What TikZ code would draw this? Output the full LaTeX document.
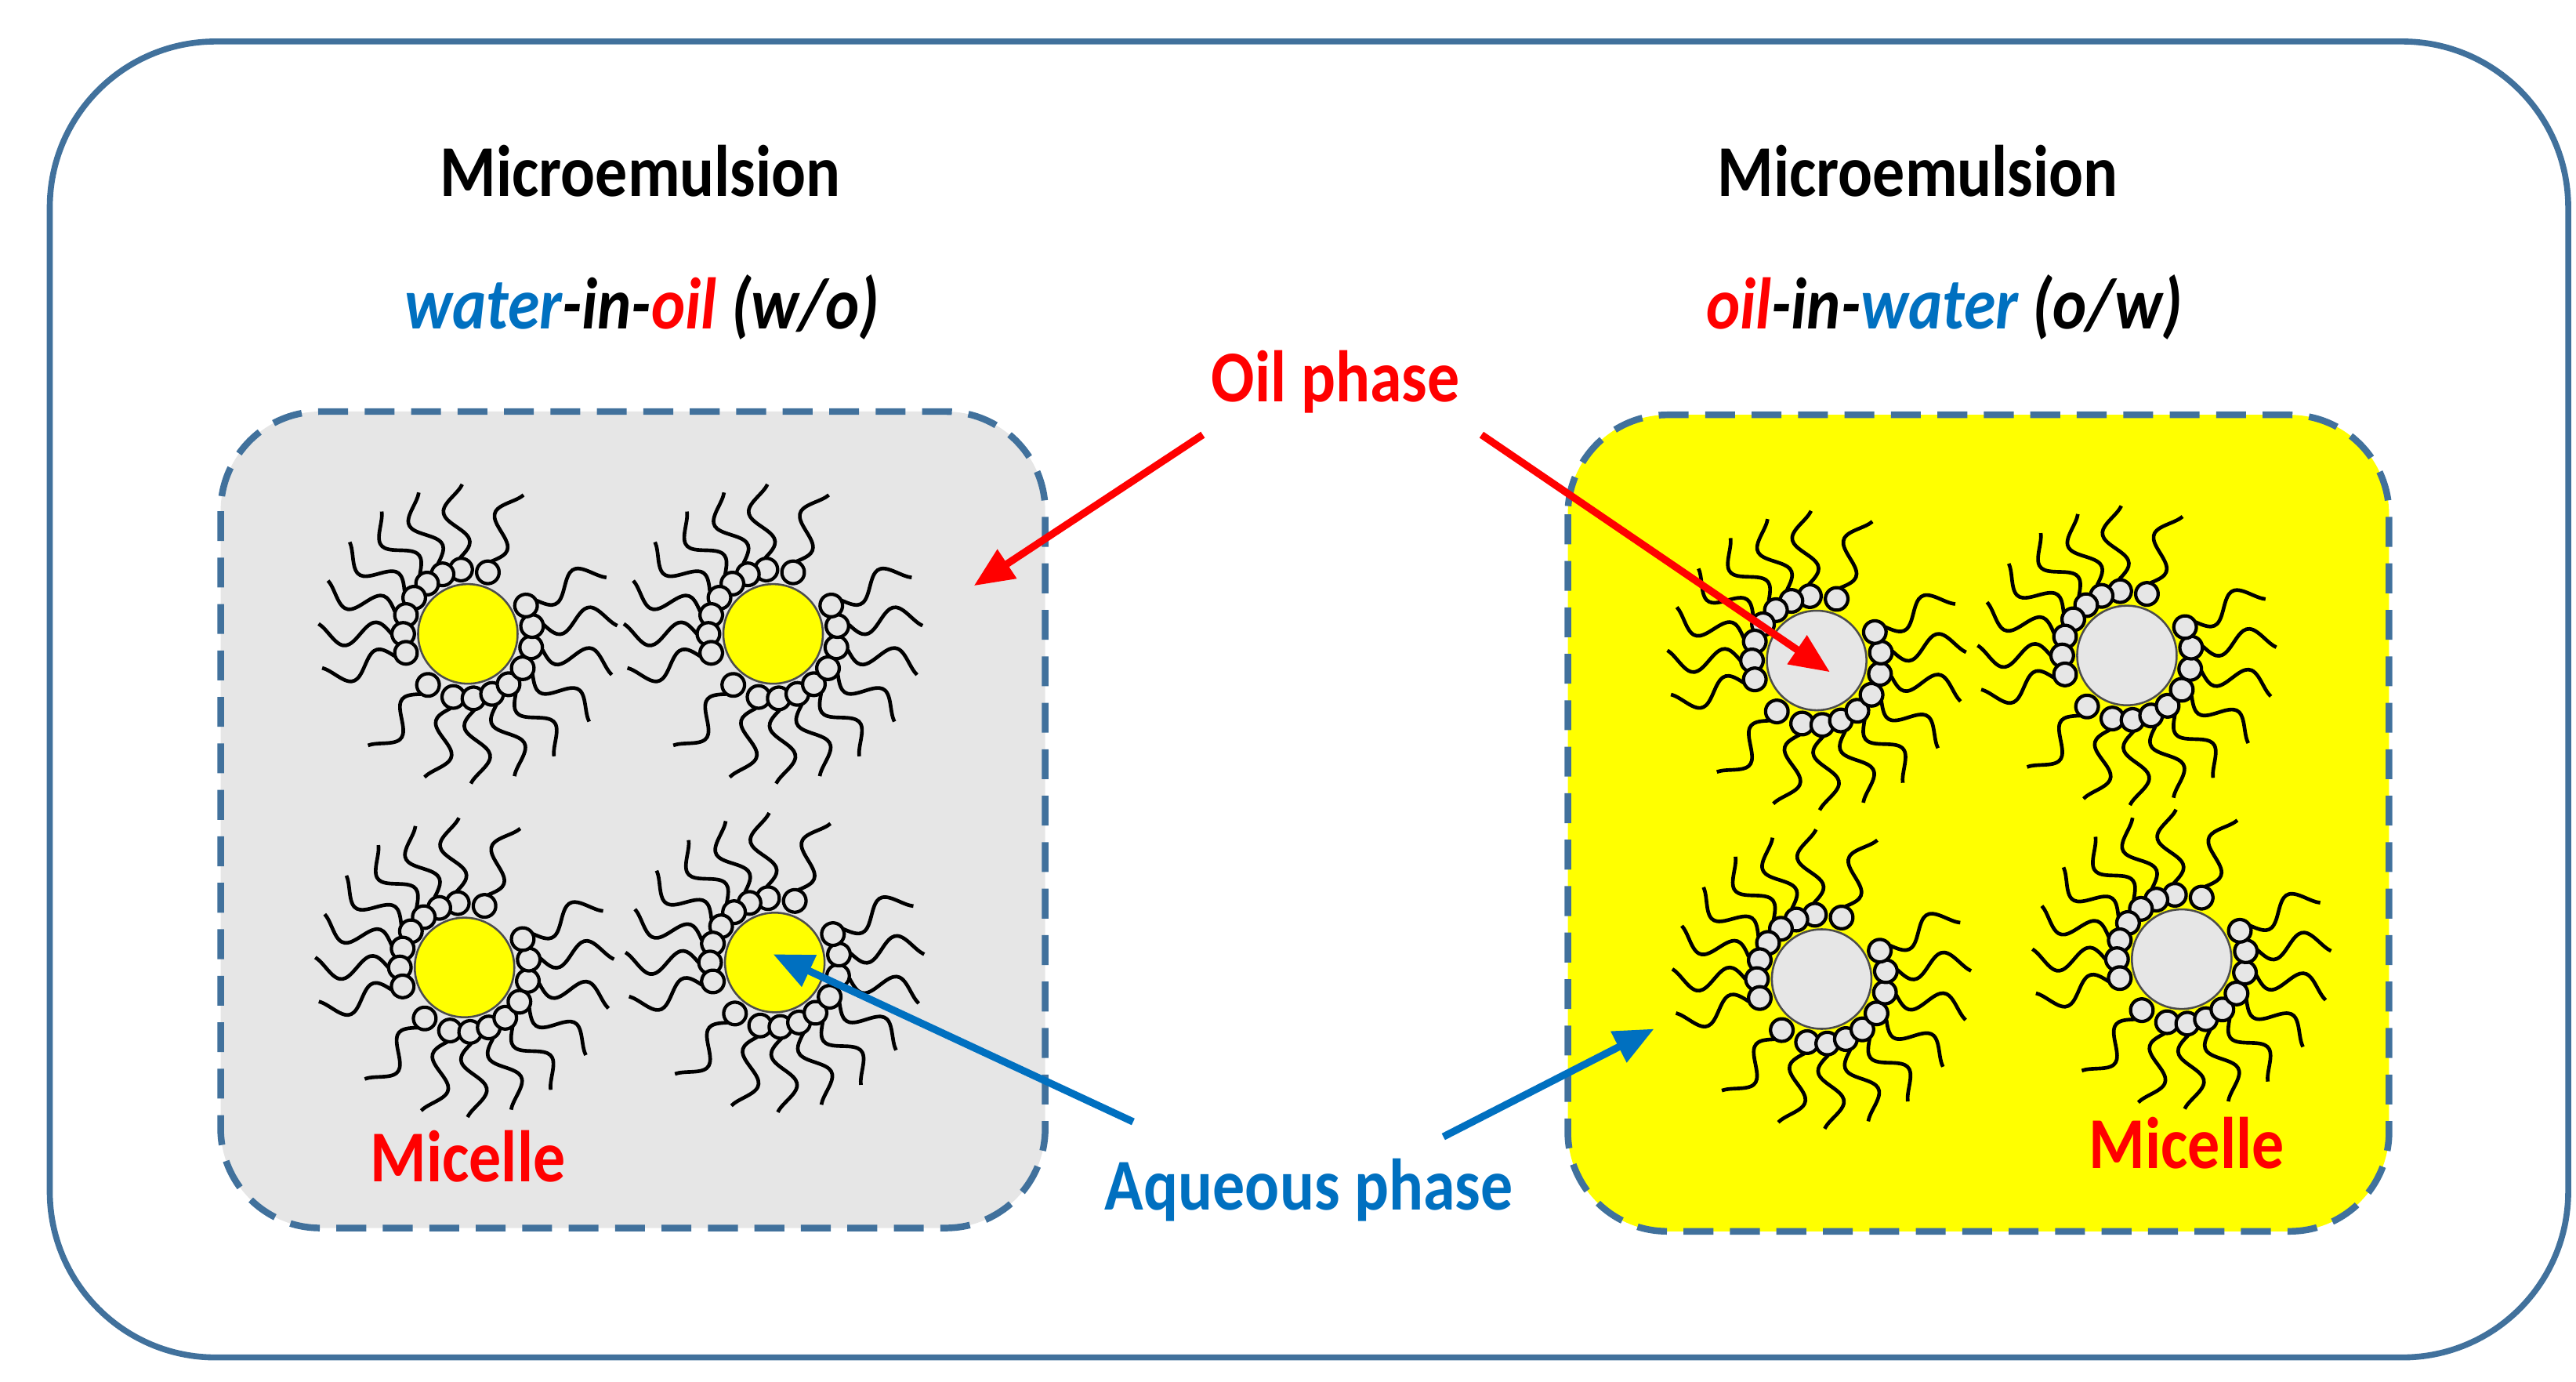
\documentclass[tikz,border=0pt]{standalone}
\usepackage{fontspec}
\usepackage{graphicx}
\setmainfont{Carlito}
\usetikzlibrary{arrows.meta}
\definecolor{frame}{HTML}{41719C}
\definecolor{wblue}{HTML}{0070C0}
\definecolor{ored}{HTML}{FF0000}
\definecolor{ygold}{HTML}{FFFF00}
\definecolor{lgray}{HTML}{E6E6E6}
\definecolor{cgray}{HTML}{DCDCDC}
\newcommand\mymicelle[4]{%
  \begin{scope}[shift={(#1,#2)}]
    \foreach \a in {72,96,113,129,146,163,180,197,232,257,275,292,309,328,348,7,26}{
      \draw[line width=1.1pt,rotate=\a] plot[domain=0:1,samples=25,smooth] ({46+44*\x},{7*sin(420*\x)});
      \draw[line width=1pt,fill=#4,rotate=\a] (39,0) circle [radius=3.4pt];
    }
    \node[circle,draw=black!70,line width=0.6pt,fill=#3,minimum size=30pt,inner sep=0pt] at (0,0) {};
  \end{scope}}
\newcommand\nar[1]{\scalebox{0.88}[1]{#1}}
\tikzset{
  ttl/.style={font=\bfseries\fontsize{22}{26}\selectfont},
  box/.style={draw=frame,line width=2pt,dash pattern=on 9pt off 5pt,rounded corners=30pt},
  arr/.style={line width=2.2pt,-{Triangle[length=12pt,width=10pt]}}
}
\begin{document}
\begin{tikzpicture}[x=0.5pt,y=-0.5pt]
\useasboundingbox (0,0) rectangle (1552.7,832.8);
\draw[frame,line width=1.8pt,rounded corners=50pt] (30,25) rectangle (1548,818);
\draw[box,fill=lgray] (133,248) rectangle (630,740);
\draw[box,fill=ygold] (945,250) rectangle (1440,742);
\mymicelle{282}{382}{ygold}{lgray}
\mymicelle{466}{382}{ygold}{lgray}
\mymicelle{280}{583}{ygold}{lgray}
\mymicelle{467}{580}{ygold}{lgray}
\mymicelle{1095}{398}{lgray}{lgray}
\mymicelle{1282}{395}{lgray}{lgray}
\mymicelle{1098}{590}{lgray}{lgray}
\mymicelle{1315}{578}{lgray}{lgray}
\node[ttl] (t1) at (386,103) {\nar{Microemulsion}};
\node[ttl] (t2) at (1156,103) {\nar{Microemulsion}};
\node[ttl,font=\bfseries\itshape\fontsize{22}{26}\selectfont] (s1) at (387,185) {\nar{\textcolor{wblue}{water}-in-\textcolor{ored}{oil} (w/o)}};
\node[ttl,font=\bfseries\itshape\fontsize{22}{26}\selectfont] (s2) at (1172,185) {\nar{\textcolor{ored}{oil}-in-\textcolor{wblue}{water} (o/w)}};
\node[ttl,ored] (oil) at (805,230) {\nar{Oil phase}};
\node[ttl,wblue] (aq) at (789,717) {\nar{Aqueous phase}};
\node[ttl,ored] (m1) at (282,697) {\nar{Micelle}};
\node[ttl,ored] (m2) at (1318,689) {\nar{Micelle}};
\coordinate (o1s) at (725,262); \coordinate (o1e) at (587,353);
\coordinate (o2s) at (893,262); \coordinate (o2e) at (1103,405);
\coordinate (a1s) at (683,676); \coordinate (a1e) at (466,575);
\coordinate (a2s) at (870,685); \coordinate (a2e) at (997,620);
\draw[arr,ored] (o1s) -- (o1e);
\draw[arr,ored] (o2s) -- (o2e);
\draw[arr,wblue] (a1s) -- (a1e);
\draw[arr,wblue] (a2s) -- (a2e);
\end{tikzpicture}
\end{document}
